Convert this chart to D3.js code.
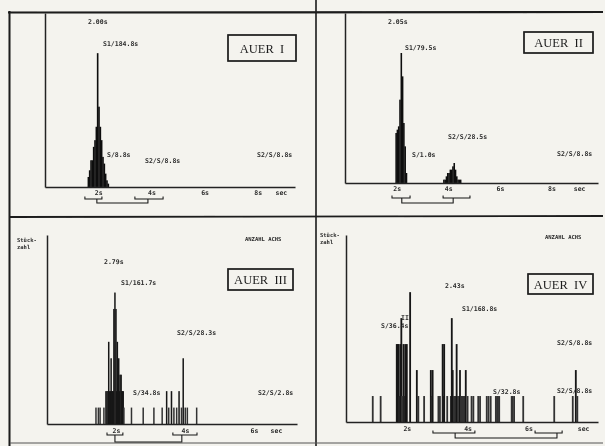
<!DOCTYPE html>
<html>
<head>
<meta charset="utf-8">
<script src="https://cdn.jsdelivr.net/npm/d3@7"></script>
<style>
  html, body { margin: 0; padding: 0; background: #f4f3ee; }
  svg { display: block; }
  .note { font-family: "DejaVu Sans Mono", monospace; font-weight: bold; font-size: 6.5px; fill: #2a2a2a; }
  .tick text { font-family: "DejaVu Sans Mono", monospace; font-weight: bold; font-size: 6.5px; fill: #2a2a2a; }
  .domain { stroke: #222; stroke-width: 1.5; }
  .boxlabel { font-family: "Liberation Serif", "DejaVu Serif", serif; font-size: 12.5px; fill: #1e1e1e; }
</style>
</head>
<body>
<div id="chart"></div>
<script>
// ---- data ----
// top panels: histogram bins, 0.05 s wide: [bin start (s), count]
let auer1_bins = [[1.60,3],[1.65,5],[1.70,8],[1.75,8],[1.80,12],[1.85,14],[1.90,18],[1.95,40],
                  [2.00,24],[2.05,18],[2.10,14],[2.15,9],[2.20,7],[2.25,4],[2.30,2],[2.35,1]];
let auer2_bins = [[1.95,15],[2.00,16],[2.05,17],[2.10,25],[2.15,39],[2.20,32],[2.25,18],[2.30,11],[2.35,3],
                  [3.80,1],[3.85,1],[3.90,2],[3.95,3],[4.00,3],[4.05,4],[4.10,4],[4.15,5],[4.20,6],
                  [4.25,4],[4.30,2],[4.35,1],[4.40,1],[4.45,1]];
// bottom panels: single values: [duration (s), count]
let auer3_bars = [[1.42,1],[1.49,1],[1.54,1],[1.65,1],
                  [1.71,2],[1.74,2],[1.77,2],[1.79,5],[1.82,2],[1.84,2],[1.86,4],[1.88,2],[1.90,2],[1.92,2],
                  [1.94,7],[1.97,8],[2.00,7],[2.02,2],[2.04,5],[2.06,2],[2.08,4],[2.10,2],[2.12,3],[2.15,3],
                  [2.17,2],[2.19,2],[2.21,2],[2.23,1],
                  [2.45,1],[2.79,1],[3.10,1],[3.34,1],[3.47,2],[3.53,1],[3.61,2],[3.68,1],[3.76,1],[3.83,2],
                  [3.90,1],[3.95,4],[4.01,1],[4.07,1],[4.34,1]];
let auer4_bars = [[0.88,1],[1.14,1],
                  [1.67,3],[1.70,3],[1.73,3],[1.76,1],[1.79,3],[1.82,4],[1.84,1],[1.89,3],[1.92,1],[1.95,3],[2.00,3],[2.11,5],
                  [2.33,2],[2.38,1],[2.57,1],
                  [2.79,2],[2.82,1],[2.85,2],[3.04,1],[3.09,1],[3.18,3],[3.21,1],[3.23,3],[3.33,1],
                  [3.45,1],[3.48,4],[3.51,2],[3.55,1],[3.58,1],[3.60,1],[3.64,3],[3.68,1],[3.72,1],[3.75,2],
                  [3.79,1],[3.82,1],[3.86,1],[3.90,1],[3.94,2],[4.00,1],
                  [4.13,1],[4.19,1],[4.35,1],[4.41,1],[4.63,1],[4.69,1],[4.76,1],[4.93,1],[4.97,1],[5.00,1],
                  [5.04,1],[5.45,1],[5.48,1],[5.53,1],[5.83,1],[6.85,1],[7.46,1],[7.56,2],[7.61,1]];

// range brackets under the x axis (s)
let auer1_brackets = [[1.50,2.14],[3.38,4.44]], auer1_link = [1.95,3.87];
let auer2_brackets = [[1.82,2.52],[3.80,4.84]], auer2_link = [2.20,4.19];
let auer3_brackets = [[1.74,2.20],[3.65,4.35]], auer3_link = [1.97,3.91];
let auer4_brackets = [[2.86,4.24],[6.22,7.11]], auer4_link = [3.59,6.94];

let top_ticks = [2,4,6,8];
let bottom_ticks = [2,4,6];

let panel_names = ["AUER  I", "AUER  II", "AUER  III", "AUER  IV"];

// ---- layout ----
let W = 605, H = 446;
let svg = d3.select("#chart").append("svg").attr("width", W).attr("height", H);

let defs = svg.append("defs");
defs.append("filter").attr("id", "scan")
    .append("feGaussianBlur").attr("stdDeviation", 0.35);

let g = svg.append("g").attr("filter", "url(#scan)");

// frame lines of the page
let ink = "#1c1c1c";
g.append("line").attr("x1", 8).attr("x2", 603).attr("y1", 12.5).attr("y2", 12).attr("stroke", ink).attr("stroke-width", 2.2);
g.append("line").attr("x1", 9.5).attr("x2", 9.5).attr("y1", 11).attr("y2", 446).attr("stroke", ink).attr("stroke-width", 2);
g.append("line").attr("x1", 316).attr("x2", 316).attr("y1", 0).attr("y2", 446).attr("stroke", ink).attr("stroke-width", 1.6);
g.append("line").attr("x1", 10).attr("x2", 603).attr("y1", 217).attr("y2", 216).attr("stroke", ink).attr("stroke-width", 1.8);
g.append("line").attr("x1", 10).attr("x2", 603).attr("y1", 443).attr("y2", 443).attr("stroke", "#555").attr("stroke-width", 1);

let panels = [
  { name: panel_names[0], kind: "hist", data: auer1_bins, binW: 0.05,
    x0: 45, x1: 295, xMax: 9.4, base: 187, top: 13, yMax: 52,
    ticks: top_ticks, secAt: 8.87, pad: 3,
    brackets: auer1_brackets, link: auer1_link, bDy: 12, lDy: 16,
    box: [228, 35, 68, 26],
    notes: [["2.00s", 88, 24], ["S1/184.8s", 103, 46], ["S/8.8s", 107, 157], ["S2/S/8.8s", 145, 163], ["S2/S/8.8s", 257, 157]] },
  { name: panel_names[1], kind: "hist", data: auer2_bins, binW: 0.05,
    x0: 345, x1: 598, xMax: 9.8, base: 183, top: 13, yMax: 51,
    ticks: top_ticks, secAt: 9.07, pad: 3,
    brackets: auer2_brackets, link: auer2_link, bDy: 15, lDy: 20,
    box: [524, 32, 69, 21],
    notes: [["2.05s", 388, 24], ["S1/79.5s", 405, 50], ["S/1.0s", 412, 157], ["S2/S/28.5s", 448, 139], ["S2/S/8.8s", 557, 156]] },
  { name: panel_names[2], kind: "bars", data: auer3_bars, barW: 1.5,
    x0: 47, x1: 297, xMax: 7.25, base: 424, top: 235, yMax: 11.5,
    ticks: bottom_ticks, secAt: 6.64, pad: 4,
    brackets: auer3_brackets, link: auer3_link, bDy: 11, lDy: 18,
    box: [228, 269, 65, 21], ylab: [17, 242], corner: [245, 241],
    notes: [["2.79s", 104, 264], ["S1/161.7s", 121, 285], ["S2/S/28.3s", 177, 335], ["S/34.8s", 133, 395], ["S2/S/2.8s", 258, 395]] },
  { name: panel_names[3], kind: "bars", data: auer4_bars, barW: 1.8,
    x0: 346, x1: 598, xMax: 8.29, base: 422, top: 235, yMax: 7.2,
    ticks: bottom_ticks, secAt: 7.8, pad: 4,
    brackets: auer4_brackets, link: auer4_link, bDy: 11, lDy: 16,
    box: [528, 274, 65, 20], ylab: [320, 237], corner: [545, 239],
    notes: [["2.43s", 445, 288], ["S1/168.8s", 462, 311], ["S/36.4s", 381, 328], ["II", 401, 320], ["S/32.8s", 493, 394],
            ["S2/S/8.8s", 557, 345], ["S2/S/8.8s", 557, 393]] }
];

panels.forEach(draw_panel);

function draw_panel(p) {
  let x = d3.scaleLinear().domain([0, p.xMax]).range([p.x0, p.x1]);
  let y = d3.scaleLinear().domain([0, p.yMax]).range([p.base, p.top]);
  let pg = g.append("g");

  // bars
  if (p.kind == "hist") {
    pg.selectAll("rect.bin")
      .data(p.data)
      .enter()
      .append("rect")
      .attr("x", d => x(d[0]))
      .attr("width", d => x(d[0] + p.binW) - x(d[0]) + 0.3)
      .attr("y", d => y(d[1]))
      .attr("height", d => p.base - y(d[1]))
      .attr("fill", "#111");
  } else {
    pg.selectAll("rect.bar")
      .data(p.data)
      .enter()
      .append("rect")
      .attr("x", d => x(d[0]) - p.barW / 2)
      .attr("width", p.barW)
      .attr("y", d => y(d[1]))
      .attr("height", d => p.base - y(d[1]))
      .attr("fill", d => d[1] > 1 ? "#151515" : "#333");
  }

  // axes
  let tv = p.ticks.concat([p.secAt]);
  pg.append("g")
    .attr("transform", "translate(0," + p.base + ")")
    .call(d3.axisBottom(x).tickValues(tv).tickSize(0).tickSizeOuter(0).tickPadding(p.pad)
      .tickFormat(d => d == p.secAt ? "sec" : d + "s"));
  pg.append("g")
    .attr("transform", "translate(" + p.x0 + ",0)")
    .call(d3.axisLeft(y).tickValues([]).tickSizeOuter(0));

  // range brackets
  let by = p.base + p.bDy, ly = p.base + p.lDy;
  pg.selectAll("path.br")
    .data(p.brackets)
    .enter()
    .append("path")
    .attr("d", d => "M" + x(d[0]) + "," + (by - 2.5) + "L" + x(d[0]) + "," + by + "L" + x(d[1]) + "," + by + "L" + x(d[1]) + "," + (by - 2.5))
    .attr("fill", "none").attr("stroke", ink).attr("stroke-width", 1.1);
  pg.append("path")
    .attr("d", "M" + x(p.link[0]) + "," + by + "L" + x(p.link[0]) + "," + ly + "L" + x(p.link[1]) + "," + ly + "L" + x(p.link[1]) + "," + by)
    .attr("fill", "none").attr("stroke", ink).attr("stroke-width", 1.1);

  // notes
  pg.selectAll("text.note")
    .data(p.notes)
    .enter()
    .append("text")
    .classed("note", true)
    .attr("x", d => d[1])
    .attr("y", d => d[2])
    .text(d => d[0]);

  if (p.ylab) {
    pg.append("text").classed("note", true).attr("x", p.ylab[0]).attr("y", p.ylab[1]).style("font-size", "5.5px").text("Stück-");
    pg.append("text").classed("note", true).attr("x", p.ylab[0]).attr("y", p.ylab[1] + 6.5).style("font-size", "5.5px").text("zahl");
  }
  if (p.corner) {
    pg.append("text").classed("note", true).attr("x", p.corner[0]).attr("y", p.corner[1]).style("font-size", "5.5px").text("ANZAHL ACHS");
  }

  // name box
  let b = p.box;
  pg.append("rect")
    .attr("x", b[0]).attr("y", b[1]).attr("width", b[2]).attr("height", b[3])
    .attr("fill", "none").attr("stroke", ink).attr("stroke-width", 1.7);
  pg.append("text")
    .classed("boxlabel", true)
    .attr("x", b[0] + b[2] / 2)
    .attr("y", b[1] + b[3] / 2 + 4.5)
    .attr("text-anchor", "middle")
    .style("white-space", "pre")
    .text(p.name);
}
</script>
</body>
</html>
